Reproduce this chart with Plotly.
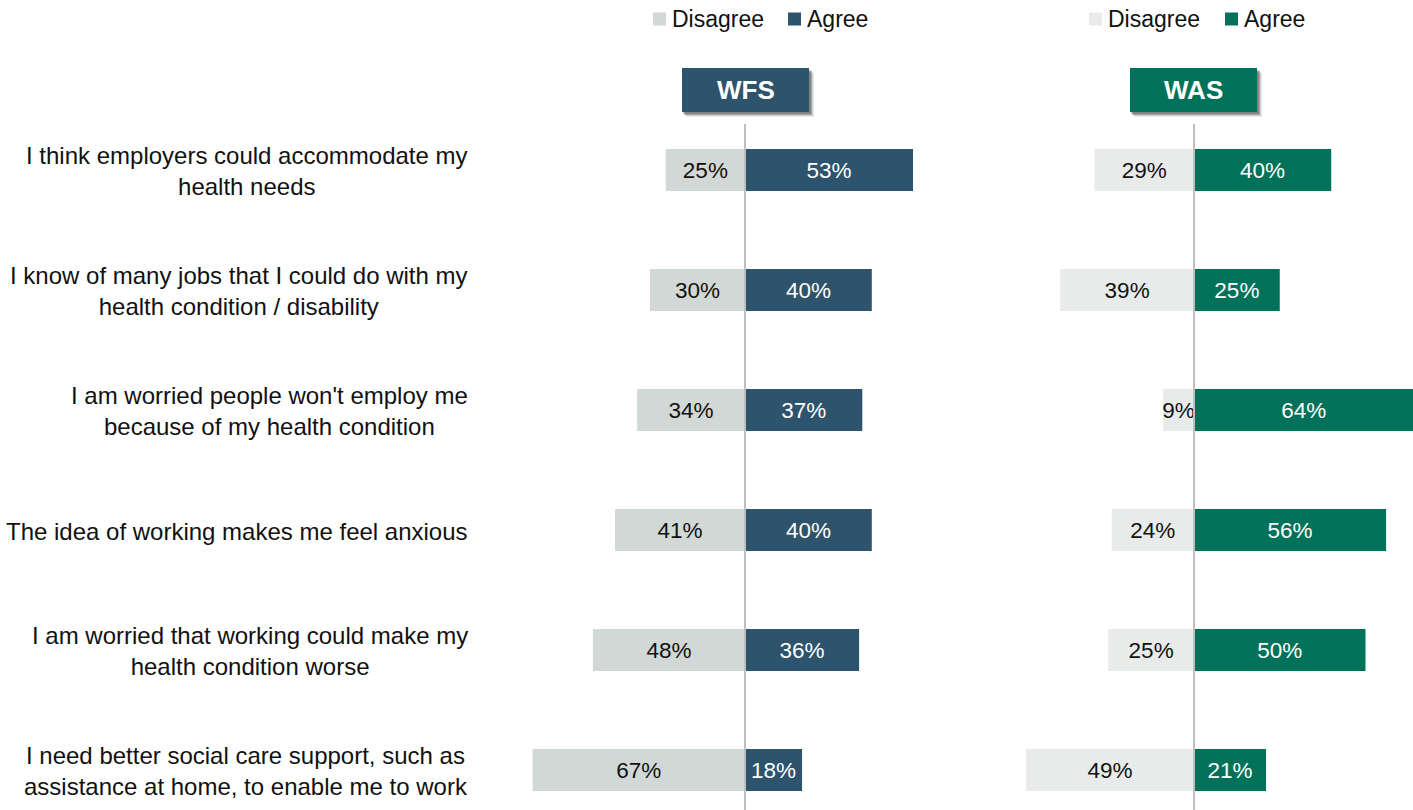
import plotly.graph_objects as go

# Survey statements and response shares (%)
statements = [
    "I think employers could accommodate my<br>health needs",
    "I know of many jobs that I could do with my<br>health condition / disability",
    "I am worried people won't employ me<br>because of my health condition",
    "The idea of working makes me feel anxious",
    "I am worried that working could make my<br>health condition worse",
    "I need better social care support, such as<br>assistance at home, to enable me to work",
]
wfs_disagree = [25, 30, 34, 41, 48, 67]
wfs_agree = [53, 40, 37, 40, 36, 18]
was_disagree = [29, 39, 9, 24, 25, 49]
was_agree = [40, 25, 64, 56, 50, 21]

groups = ["WFS", "WAS"]
series_names = ["Disagree", "Agree"]

# Palette
WFS_DIS = "#D1D8D5"
WFS_AGR = "#2D536D"
WAS_DIS = "#E9EAEA"
WAS_AGR = "#00725A"
FONT = "Liberation Sans, Arial, sans-serif"

W, H = 1413, 810


def px(x):
    return x / W


def py(y):
    return 1 - y / H


rows = list(range(len(statements)))

fig = go.Figure()


def add_panel(dis, agr, c_dis, c_agr, xaxis):
    fig.add_trace(go.Bar(
        y=rows, x=[-v for v in dis], base=0, orientation="h",
        marker=dict(color=c_dis, line=dict(width=0)),
        width=0.35, name="Disagree", xaxis=xaxis, yaxis="y",
        text=[f"{v}%" for v in dis], textposition="inside",
        insidetextanchor="middle", textangle=0,
        textfont=dict(family=FONT, size=22.5, color="#111111"),
        hoverinfo="skip", showlegend=False,
    ))
    fig.add_trace(go.Bar(
        y=rows, x=agr, base=0, orientation="h",
        marker=dict(color=c_agr, line=dict(width=0)),
        width=0.35, name="Agree", xaxis=xaxis, yaxis="y",
        text=[f"{v}%" for v in agr], textposition="inside",
        insidetextanchor="middle", textangle=0,
        textfont=dict(family=FONT, size=22.5, color="#FFFFFF"),
        hoverinfo="skip", showlegend=False,
    ))


add_panel(wfs_disagree, wfs_agree, WFS_DIS, WFS_AGR, "x")
add_panel(was_disagree, was_agree, WAS_DIS, WAS_AGR, "x2")

# Panel geometry: pixel domain, zero position and pixels per percentage point
wfs_dom, wfs_zero, wfs_scale = (480, 990), 745, 3.17
was_dom, was_zero, was_scale = (990, 1413), 1194, 3.43


def axis_range(dom, zero, scale):
    return [(dom[0] - zero) / scale, (dom[1] - zero) / scale]


hidden = dict(showgrid=False, zeroline=False, showticklabels=False,
              showline=False, ticks="", fixedrange=True)

fig.update_layout(
    width=W, height=H,
    margin=dict(l=0, r=0, t=0, b=0),
    paper_bgcolor="white", plot_bgcolor="white",
    barmode="relative",
    uniformtext=dict(minsize=22.5, mode="show"),
    xaxis=dict(domain=[px(wfs_dom[0]), px(wfs_dom[1])],
               range=axis_range(wfs_dom, wfs_zero, wfs_scale), anchor="y", **hidden),
    xaxis2=dict(domain=[px(was_dom[0]), px(was_dom[1])],
                range=axis_range(was_dom, was_zero, was_scale), anchor="y", **hidden),
    yaxis=dict(domain=[0, 1], range=[(H - 170) / 120, -170 / 120], **hidden),
    font=dict(family=FONT, color="#111111"),
)

# Statement labels
for i, s in enumerate(statements):
    fig.add_annotation(
        xref="paper", yref="y", x=px(470), y=i + 0.01, text=s,
        xanchor="right", yanchor="middle", align="center", showarrow=False,
        font=dict(family=FONT, size=24, color="#111111"),
    )

shapes = []

# Centre lines
for xr in ["x", "x2"]:
    shapes.append(dict(type="line", xref=xr, yref="paper", x0=0, x1=0,
                       y0=py(124), y1=0, line=dict(color="#BFBFBF", width=2),
                       layer="above"))

# Panel title boxes with a soft drop shadow
titles = [(groups[0], 682, 809, WFS_AGR), (groups[1], 1130, 1257, WAS_AGR)]
for name, x0, x1, col in titles:
    for off, op in [(5, 0.08), (4, 0.12), (3, 0.18), (2, 0.22)]:
        shapes.append(dict(type="rect", xref="paper", yref="paper",
                           x0=px(x0 + off - 1), x1=px(x1 + off), y0=py(112 + off), y1=py(68 + off),
                           fillcolor=f"rgba(0,0,0,{op})", line=dict(width=0), layer="below"))
    shapes.append(dict(type="rect", xref="paper", yref="paper",
                       x0=px(x0), x1=px(x1), y0=py(112), y1=py(68),
                       fillcolor=col, line=dict(width=0), layer="below"))
    fig.add_annotation(xref="paper", yref="paper", x=px((x0 + x1) / 2), y=py(90),
                       text=f"<b>{name}</b>", showarrow=False, xanchor="center",
                       yanchor="middle", font=dict(family=FONT, size=26, color="white"))

# Legends above each panel
legends = [
    [(653, WFS_DIS, series_names[0]), (788, WFS_AGR, series_names[1])],
    [(1089, WAS_DIS, series_names[0]), (1225, WAS_AGR, series_names[1])],
]
for items in legends:
    for x0, col, label in items:
        shapes.append(dict(type="rect", xref="paper", yref="paper",
                           x0=px(x0), x1=px(x0 + 13), y0=py(25.5), y1=py(12.5),
                           fillcolor=col, line=dict(width=0)))
        fig.add_annotation(xref="paper", yref="paper", x=px(x0 + 17), y=py(19),
                           text=label, showarrow=False, xanchor="left", yanchor="middle",
                           font=dict(family=FONT, size=23, color="#111111"))

fig.update_layout(shapes=shapes)

fig.write_html("out.html")
